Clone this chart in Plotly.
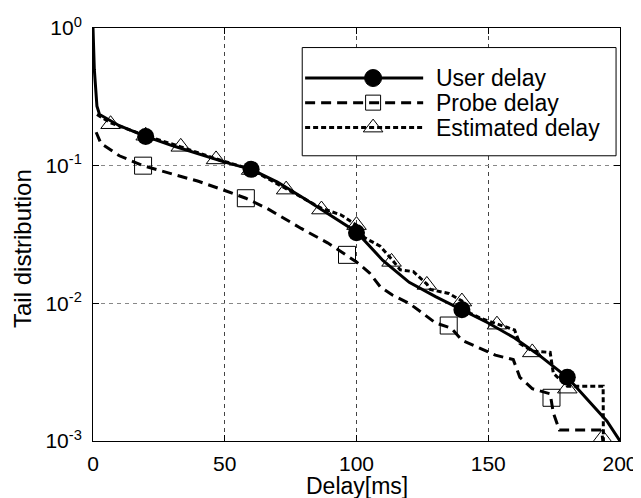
import plotly.graph_objects as go
import math

# ---------------- data ----------------
user_x = [0, 0.5, 1.5, 2.5, 10, 20, 30, 40, 50, 60, 70, 80, 90, 100, 110, 120, 130, 140,
          150, 160, 170, 180, 190, 195, 200]
user_y = [1.0, 0.5, 0.27, 0.235, 0.195, 0.163, 0.14, 0.122, 0.106, 0.094, 0.076, 0.058,
          0.044, 0.033, 0.0205, 0.0142, 0.0112, 0.009, 0.0072, 0.0056, 0.0041, 0.0029,
          0.0018, 0.0014, 0.001]

probe_x = [1.2, 3, 10, 19, 30, 40, 50, 58, 66, 79, 89, 96, 100, 105, 109, 113.6, 120, 125,
           130, 136, 140, 146, 152.7, 159.5, 162, 166.7, 173.5, 174.7, 177, 193, 193.5]
probe_y = [0.175, 0.145, 0.118, 0.1, 0.087, 0.077, 0.066, 0.058, 0.049, 0.035, 0.0275,
           0.0225, 0.02, 0.0166, 0.0132, 0.0115, 0.01, 0.0085, 0.0072, 0.0066, 0.0054,
           0.0048, 0.0042, 0.0039, 0.0029, 0.0024, 0.0022, 0.0016, 0.0012, 0.0012, 0.001]

est_x = [1.5, 6.67, 20, 33.3, 46.7, 60, 73.3, 86.7, 94, 100, 103, 109, 113.3, 116.6, 121.6,
         126.7, 128, 135, 140, 143, 147, 153.3, 160, 162, 166.7, 173.5, 174.7, 180, 193.6, 193.7]
est_y = [0.235, 0.205, 0.165, 0.137, 0.112, 0.094, 0.068, 0.049, 0.044, 0.037, 0.03, 0.026,
         0.021, 0.0175, 0.017, 0.0138, 0.0126, 0.0118, 0.0104, 0.0085, 0.0078, 0.0071,
         0.0064, 0.0051, 0.0045, 0.0044, 0.0031, 0.0025, 0.0025, 0.001]

# marker positions
user_mx = [20, 60, 100, 140, 180]
user_my = [0.163, 0.094, 0.0326, 0.009, 0.0029]
probe_mx = [19, 58, 96.4, 135, 174]
probe_my = [0.1, 0.058, 0.0225, 0.0069, 0.00206]
est_mx = [6.67, 20, 33.3, 46.7, 60, 73.3, 86.7, 100, 113.3, 126.7, 140, 153.3, 166.7, 180, 193.3]
est_my = [0.2, 0.165, 0.137, 0.111, 0.093, 0.067, 0.048, 0.037, 0.02, 0.0136, 0.0103,
          0.007, 0.0044, 0.0024, 0.00105]

series_names = ["User delay", "Probe delay", "Estimated delay"]
x_ticks = [0, 50, 100, 150, 200]
y_tickvals = [1, 0.1, 0.01, 0.001]
y_ticktext = ["10<sup>0</sup>", "10<sup>-1</sup>", "10<sup>-2</sup>", "10<sup>-3</sup>"]
x_title = "Delay[ms]"
y_title = "Tail distribution"

FONT = "Liberation Sans, Arial, Helvetica, sans-serif"
DASH = "10px,6px"
DOT = "5px,3px"

fig = go.Figure()

# curves
fig.add_trace(go.Scatter(x=user_x, y=user_y, mode="lines",
                         line=dict(color="black", width=3), showlegend=False))
fig.add_trace(go.Scatter(x=probe_x, y=probe_y, mode="lines",
                         line=dict(color="black", width=3, dash=DASH), showlegend=False))
fig.add_trace(go.Scatter(x=est_x, y=est_y, mode="lines",
                         line=dict(color="black", width=3, dash=DOT), showlegend=False))

# markers
fig.add_trace(go.Scatter(x=est_mx, y=est_my, mode="markers",
                         marker=dict(symbol="triangle-up-open", size=17, color="black",
                                     line=dict(width=1, color="black")), showlegend=False))
fig.add_trace(go.Scatter(x=probe_mx, y=probe_my, mode="markers",
                         marker=dict(symbol="square-open", size=17, color="black",
                                     line=dict(width=1, color="black")), showlegend=False))
fig.add_trace(go.Scatter(x=user_mx, y=user_my, mode="markers",
                         marker=dict(symbol="circle", size=17, color="black"), showlegend=False))

# ---------------- custom legend (long line samples) ----------------
leg_x0, leg_x1 = 79.4, 198.5
leg_y0, leg_y1 = 0.118, 0.721
line_x0, line_x1, mark_x, text_x = 80.5, 125.3, 106.3, 129.5
row_y = [0.433, 0.287, 0.189]
styles = [("solid", "circle", 17, 3), (DASH, "square-open", 15, 3), (DOT, "triangle-up-open", 17, 3)]

shapes = [dict(type="rect", xref="x", yref="y", x0=leg_x0, x1=leg_x1, y0=leg_y0, y1=leg_y1,
               line=dict(color="black", width=1), fillcolor="white", layer="between")]
annotations = []
for name, ry, (dash, sym, msz, lw) in zip(series_names, row_y, styles):
    shapes.append(dict(type="line", xref="x", yref="y", x0=line_x0, x1=line_x1, y0=ry, y1=ry,
                       line=dict(color="black", width=lw, dash=dash), layer="between"))
    fig.add_trace(go.Scatter(x=[mark_x], y=[ry], mode="markers",
                             marker=dict(symbol=sym, size=msz, color="black",
                                         line=dict(width=1, color="black")),
                             showlegend=False, hoverinfo="skip"))
    annotations.append(dict(x=text_x, y=math.log10(ry), xref="x", yref="y", text=name,
                            showarrow=False, xanchor="left", yanchor="middle",
                            font=dict(family=FONT, size=23, color="black")))

# axis titles as annotations (fixed positions)
annotations.append(dict(x=0.5, y=-0.109, xref="paper", yref="paper", text=x_title,
                        showarrow=False, xanchor="center", yanchor="middle",
                        font=dict(family=FONT, size=23, color="black")))
annotations.append(dict(x=-0.135, y=0.467, xref="paper", yref="paper", text=y_title,
                        showarrow=False, xanchor="center", yanchor="middle", textangle=-90,
                        font=dict(family=FONT, size=24, color="black")))

# the page body has an 8px margin, so the figure is sized / offset to compensate
fig.update_layout(
    width=633, height=490,
    margin=dict(l=85, r=21, t=20, b=57, autoexpand=False),
    paper_bgcolor="white", plot_bgcolor="white",
    font=dict(family=FONT, size=21, color="black"),
    shapes=shapes, annotations=annotations,
    showlegend=False,
)
fig.update_xaxes(
    range=[0, 200], tickvals=x_ticks, ticks="inside", ticklen=6, tickcolor="black",
    showline=True, linecolor="black", linewidth=1, mirror="allticks",
    showgrid=True, gridcolor="#444", griddash="4px,4px", gridwidth=1,
    zeroline=False, ticklabelstandoff=4, automargin=False,
)
fig.update_yaxes(
    type="log", range=[-3, 0], tickvals=y_tickvals, ticktext=y_ticktext,
    ticks="inside", ticklen=6, tickcolor="black",
    showline=True, linecolor="black", linewidth=1, mirror="allticks",
    showgrid=True, gridcolor="#888", griddash="4px,4px", gridwidth=1,
    zeroline=False, ticklabelstandoff=6, automargin=False,
)

fig.write_html("out.html")
